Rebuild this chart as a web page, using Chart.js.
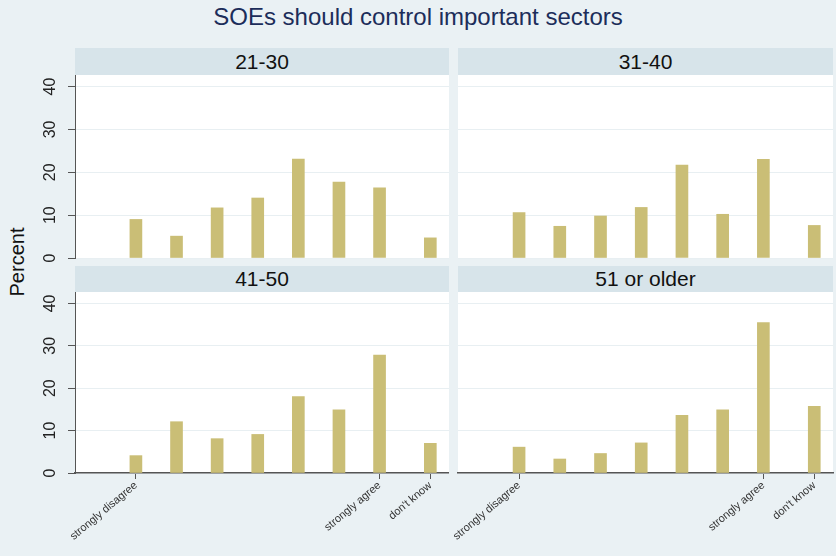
<!DOCTYPE html>
<html>
<head>
<meta charset="utf-8">
<script src="https://cdn.jsdelivr.net/npm/chart.js@4.4.1/dist/chart.umd.min.js"></script>
<style>
  body { margin: 0; background: #eaf1f4; font-family: "Liberation Sans", Arial, sans-serif; }
  #wrap { position: relative; width: 836px; height: 556px; overflow: hidden; }
  #title { position: absolute; left: 0; top: 0; width: 836px; height: 34px; line-height: 34px;
           text-align: center; font-size: 24px; color: #1c2d5a; }
  .strip { position: absolute; background: #d7e4ea; color: #111; text-align: center; font-size: 21px; }
  #ylab { position: absolute; left: 17px; top: 262px; font-size: 20px; color: #111;
          transform: translate(-50%, -50%) rotate(-90deg); white-space: nowrap; }
  canvas { position: absolute; }
</style>
</head>
<body>
<div id="wrap">
  <div id="title">SOEs should control important sectors</div>
  <div class="strip" style="left:75px;top:48px;width:374px;height:27px;line-height:27px">21-30</div>
  <div class="strip" style="left:458px;top:48px;width:375px;height:27px;line-height:27px">31-40</div>
  <div class="strip" style="left:75px;top:266px;width:374px;height:26px;line-height:26px">41-50</div>
  <div class="strip" style="left:458px;top:266px;width:375px;height:26px;line-height:26px">51 or older</div>
  <div id="ylab">Percent</div>
  <canvas id="c1" width="449" height="191" style="left:0;top:75px"></canvas>
  <canvas id="c2" width="387" height="191" style="left:449px;top:75px"></canvas>
  <canvas id="c3" width="449" height="264" style="left:0;top:292px"></canvas>
  <canvas id="c4" width="387" height="264" style="left:449px;top:292px"></canvas>
</div>
<script>
// response codes (don't know sits a little apart on the axis)
const responseCodes = [1, 2, 3, 4, 5, 6, 7, 8.25];
const tickValues = [1, 7, 8.25];
const tickLabels = ["strongly disagree", "strongly agree", "don't know"];
const yTicks = [0, 10, 20, 30, 40];

// percent per response, by age group
const pct2130 = [9.0, 5.1, 11.7, 14.0, 23.1, 17.7, 16.4, 4.7];
const pct3140 = [10.6, 7.4, 9.8, 11.8, 21.7, 10.2, 23.0, 7.6];
const pct4150 = [4.1, 12.1, 8.1, 9.1, 18.0, 14.9, 27.8, 7.0];
const pct51up = [6.1, 3.3, 4.6, 7.1, 13.6, 14.9, 35.5, 15.7];

const barColor = "#cabe76";
const axisColor = "#555";

const whiteArea = {
  id: "whiteArea",
  beforeDraw(chart) {
    const { ctx, chartArea: a } = chart;
    ctx.save();
    ctx.fillStyle = "#fff";
    ctx.fillRect(a.left, a.top, a.right - a.left, a.bottom - a.top + 1);
    ctx.restore();
  },
};

const makePanel = (id, values, leftCol, bottomRow) => {
  const ctx = document.getElementById(id).getContext("2d");
  return new Chart(ctx, {
    type: "bar",
    data: {
      datasets: [
        {
          data: responseCodes.map((c, i) => ({ x: c, y: values[i] })),
          backgroundColor: barColor,
          borderWidth: 0,
          barThickness: 12,
        },
      ],
    },
    options: {
      responsive: false,
      animation: false,
      devicePixelRatio: 1,
      layout: { padding: { left: 0, right: leftCol ? 0 : 3, top: 0, bottom: 0 } },
      plugins: { legend: { display: false }, tooltip: { enabled: false } },
      scales: {
        x: {
          type: "linear",
          min: -0.5,
          max: 8.71,
          offset: false,
          afterBuildTicks: (s) => {
            s.ticks = tickValues.map((v) => ({ value: v }));
          },
          afterFit: (s) => {
            s.height = bottomRow ? 83 : 8;
            s.paddingLeft = 0;
            s.paddingRight = 0;
          },
          border: { display: bottomRow, color: axisColor, width: 1.5 },
          grid: {
            display: bottomRow,
            offset: false,
            drawOnChartArea: false,
            tickLength: 6,
            tickColor: axisColor,
          },
          ticks: {
            display: bottomRow,
            autoSkip: false,
            minRotation: 40,
            maxRotation: 40,
            padding: 0,
            color: "#333",
            font: { family: "Liberation Sans", size: 11 },
            callback: (v) => tickLabels[tickValues.indexOf(v)],
          },
        },
        y: {
          min: 0,
          max: 42.7,
          afterBuildTicks: (s) => {
            s.ticks = yTicks.map((v) => ({ value: v }));
          },
          afterFit: (s) => {
            s.width = leftCol ? 75 : 9;
            s.paddingTop = 0;
            s.paddingBottom = 0;
          },
          border: { display: leftCol, color: axisColor, width: 1 },
          grid: {
            color: "#e8eff2",
            lineWidth: 1,
            drawTicks: leftCol,
            tickLength: 7,
            tickColor: axisColor,
          },
          ticks: {
            display: leftCol,
            minRotation: 90,
            maxRotation: 90,
            crossAlign: "center",
            padding: 9,
            color: "#222",
            font: { family: "Liberation Sans", size: 16 },
          },
        },
      },
    },
    plugins: [whiteArea],
  });
};

makePanel("c1", pct2130, true, false);
makePanel("c2", pct3140, false, false);
makePanel("c3", pct4150, true, true);
makePanel("c4", pct51up, false, true);
</script>
</body>
</html>
